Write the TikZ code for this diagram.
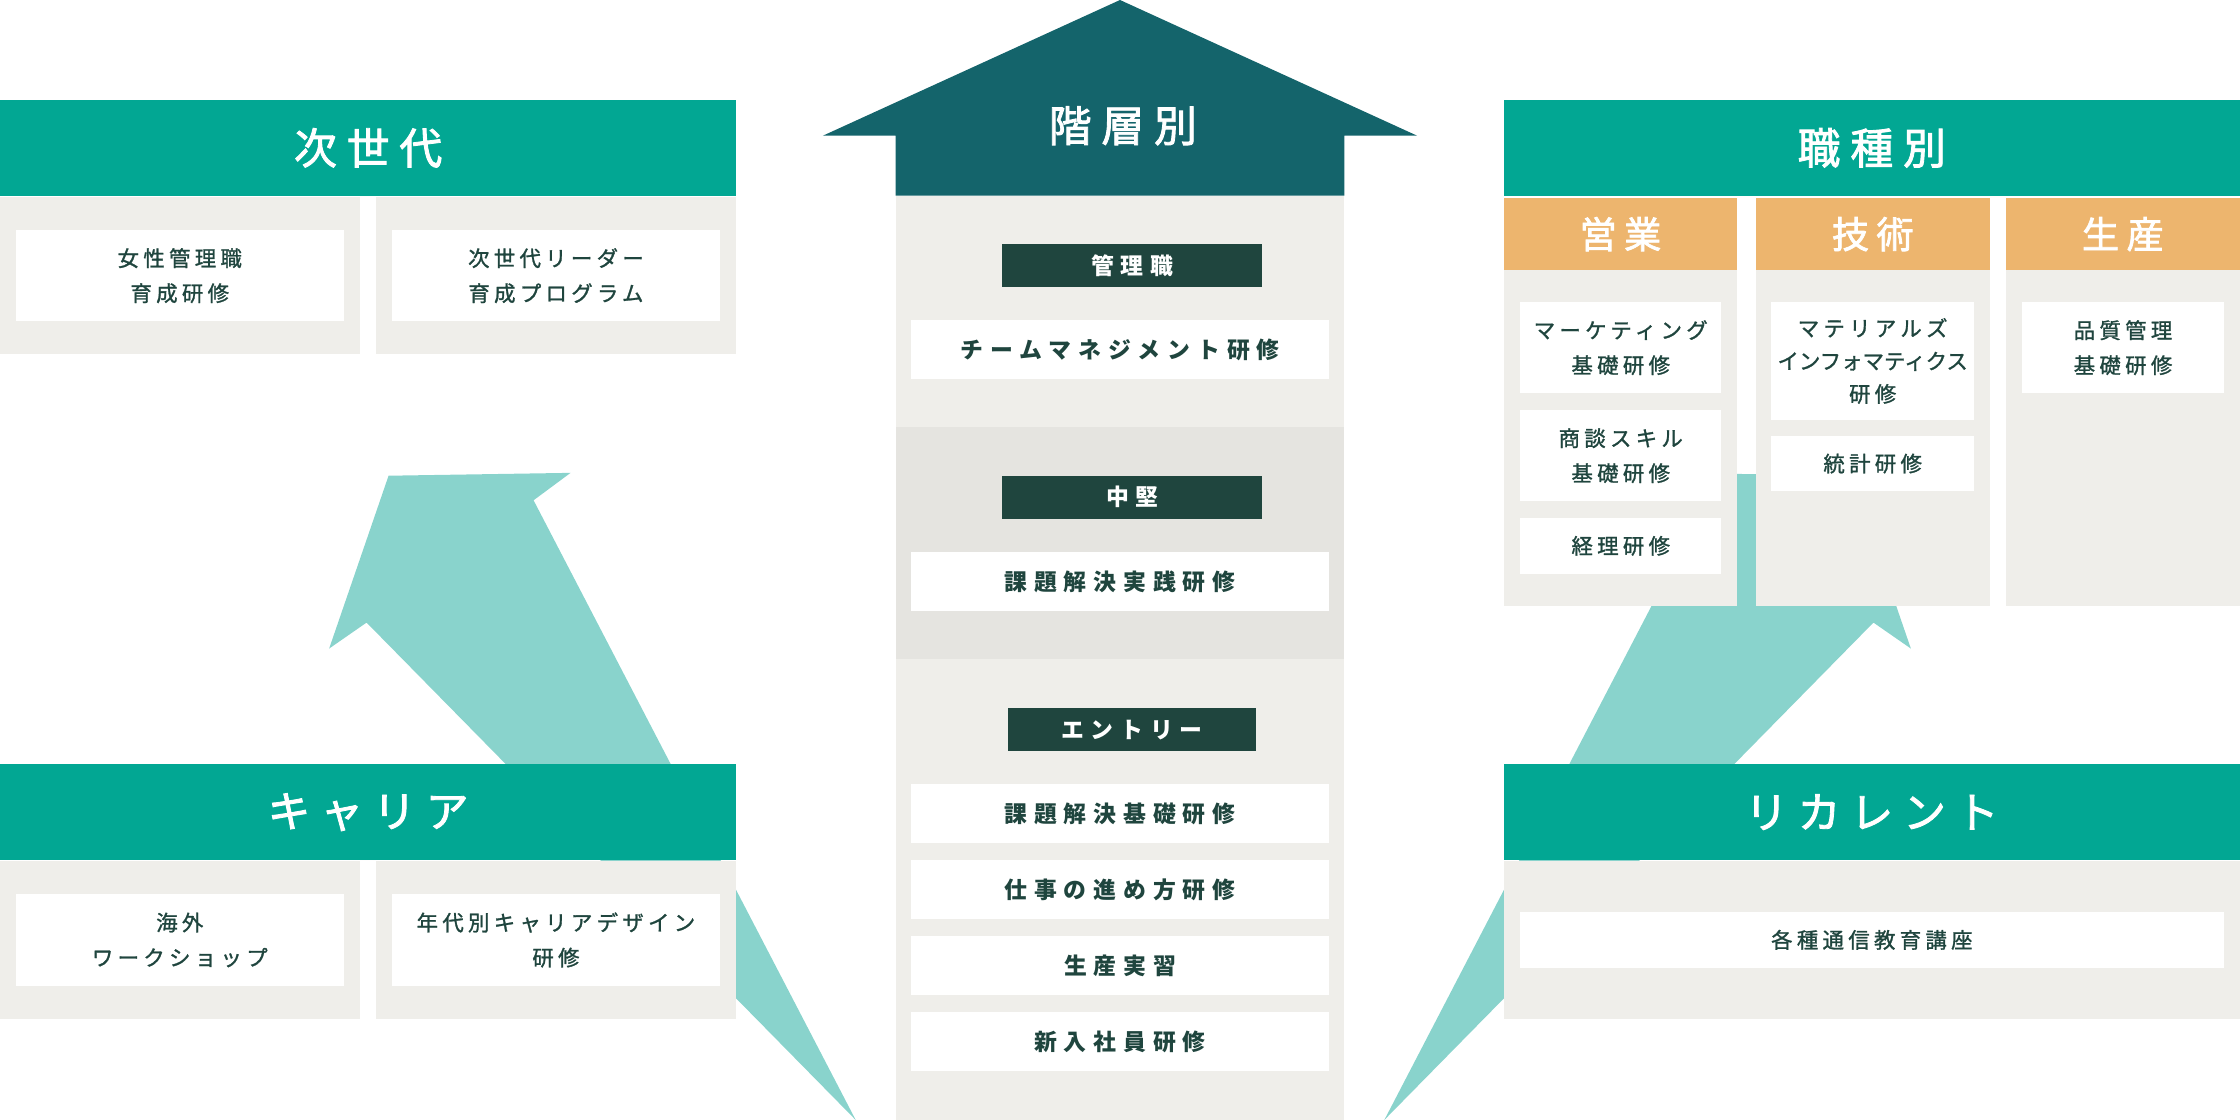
\documentclass[tikz,border=0pt]{standalone}
\usepackage{fontspec}
\setmainfont{Noto Sans CJK JP}
\newfontfamily\jpside[LetterSpace=20,FakeBold=1.2]{Noto Sans CJK JP}
\newfontfamily\jptight[LetterSpace=0,FakeBold=1.2]{Noto Sans CJK JP}
\newfontfamily\jpcenter[LetterSpace=30]{Noto Sans CJK JP}
\newfontfamily\jphead[LetterSpace=23,FakeBold=2]{Noto Sans CJK JP}
\newfontfamily\jpsub[LetterSpace=20,FakeBold=2]{Noto Sans CJK JP}
\definecolor{hdrgreen}{HTML}{02A793}
\definecolor{darkteal}{HTML}{14646B}
\definecolor{labelgreen}{HTML}{1F453E}
\definecolor{orangehd}{HTML}{EDB56E}
\definecolor{lightteal}{HTML}{89D3CC}
\definecolor{panelgray}{HTML}{EFEEEA}
\definecolor{bandgray}{HTML}{E5E4E0}
\definecolor{txtgreen}{HTML}{1F453E}
\begin{document}
\begin{tikzpicture}[x=1pt,y=-1pt,
  sz/.style 2 args={minimum width=#1pt, minimum height=#2pt},
  base/.style={draw=none, inner sep=0pt, outer sep=0pt, anchor=north west, align=center},
  hdr/.style={base, fill=hdrgreen, text=white, font={\jphead\fontsize{30}{36}\selectfont}},
  subhdr/.style={base, fill=orangehd, text=white, font={\jpsub\fontsize{26}{30}\selectfont}},
  panel/.style={base, fill=panelgray},
  band/.style={base, fill=bandgray},
  sidebox/.style={base, fill=white, text=txtgreen, font={\jpside\fontsize{15}{24.5}\selectfont}},
  cbox/.style={base, fill=white, text=txtgreen, font={\jpcenter\bfseries\fontsize{16}{20}\selectfont}},
  lvl/.style={base, fill=labelgreen, text=white, font={\jpcenter\bfseries\fontsize{16}{20}\selectfont}},
  bigarrow/.style={fill=lightteal, draw=none},
  mainarrow/.style={fill=darkteal, draw=none}
]
\useasboundingbox (0,0) rectangle (1568,784);
\clip (0,0) rectangle (1568,784);

% ---- light teal arrows (behind) ----
\coordinate (LT) at (599,784);
\coordinate (LR) at (373.5,350.2);
\coordinate (LB1) at (399.4,331);
\coordinate (LTip) at (272,333);
\coordinate (LB2) at (230.4,454);
\coordinate (LL) at (256.6,435.8);
\fill[bigarrow] (LT) -- (LR) -- (LB1) -- (LTip) -- (LB2) -- (LL) -- cycle;

\coordinate (RT) at (969,784);
\coordinate (RR) at (1194.5,350.2);
\coordinate (RB1) at (1168.6,331);
\coordinate (RTip) at (1296,333);
\coordinate (RB2) at (1337.6,454);
\coordinate (RL) at (1311.4,435.8);
\fill[bigarrow] (RT) -- (RR) -- (RB1) -- (RTip) -- (RB2) -- (RL) -- cycle;

% ---- left top: 次世代 ----
\node[hdr, sz={515.4}{67}] (hdrA) at (0,70) {次世代};
\node[panel, sz={251.7}{110}] (grayA1) at (0,138) {};
\node[panel, sz={252.1}{110}] (grayA2) at (263.3,138) {};
\node[sidebox, sz={229.3}{64}] (wA1) at (11.2,161) {女性管理職\\育成研修};
\node[sidebox, sz={229.3}{64}] (wA2) at (274.5,161) {次世代リーダー\\育成プログラム};

% ---- left bottom: キャリア ----
\node[hdr, sz={515.4}{67}] (hdrC) at (0,535) {キャリア};
\node[panel, sz={251.7}{110}] (grayC1) at (0,603) {};
\node[panel, sz={252.1}{110}] (grayC2) at (263.3,603) {};
\node[sidebox, sz={229.3}{64}] (wC1) at (11.2,626) {海外\\ワークショップ};
\node[sidebox, sz={229.3}{64}] (wC2) at (274.5,626) {年代別キャリアデザイン\\研修};

% ---- right top: 職種別 ----
\node[hdr, sz={515.4}{67}] (hdrB) at (1052.6,70) {職種別};
\node[subhdr, sz={163.4}{50.2}] (eigyo) at (1052.6,138.8) {営業};
\node[subhdr, sz={163.9}{50.2}] (gijutsu) at (1229,138.8) {技術};
\node[subhdr, sz={164}{50.2}] (seisan) at (1404,138.8) {生産};
\node[panel, sz={163.4}{235}] (colE) at (1052.6,189) {};
\node[panel, sz={163.9}{235}] (colG) at (1229,189) {};
\node[panel, sz={164}{235}] (colS) at (1404,189) {};
\node[sidebox, sz={141}{64}] (e1) at (1064,211.4) {マーケティング\\基礎研修};
\node[sidebox, sz={141}{64}] (e2) at (1064,287) {商談スキル\\基礎研修};
\node[sidebox, sz={141}{39}] (e3) at (1064,362.6) {経理研修};
\node[sidebox, sz={141.7}{82.6}, font={\jpside\fontsize{15}{23}\selectfont}] (g1) at (1240,211.4) {マテリアルズ\\{\jptight インフォマティクス}\\研修};
\node[sidebox, sz={141.7}{39}] (g2) at (1240,305) {統計研修};
\node[sidebox, sz={141.4}{64}] (s1) at (1415.4,211.4) {品質管理\\基礎研修};

% ---- right bottom: リカレント ----
\node[hdr, sz={515.4}{67}] (hdrD) at (1052.6,535) {リカレント};
\node[panel, sz={515.4}{110}] (grayD) at (1052.6,603) {};
\node[sidebox, sz={492.6}{39.2}] (wD) at (1064,638.3) {各種通信教育講座};

% ---- center: 階層別 ----
\coordinate (mA) at (576,95);
\coordinate (mTip) at (784,0);
\coordinate (mB) at (992,95);
\coordinate (mC) at (941,95);
\coordinate (mD) at (941,137);
\coordinate (mE) at (627,137);
\coordinate (mF) at (627,95);
\fill[mainarrow] (mA) -- (mTip) -- (mB) -- (mC) -- (mD) -- (mE) -- (mF) -- cycle;
\node[text=white, font={\jphead\fontsize{30}{36}\selectfont}, inner sep=0pt] (kaiso) at (786,88) {階層別};

\node[panel, sz={314}{647}] (ccol) at (627,137) {};
\node[band, sz={314}{162.5}] (cband) at (627,299) {};

\node[lvl, sz={182.2}{30}] (lv1) at (701.5,171) {管理職};
\node[cbox, sz={292}{41.5}] (c1) at (638,224) {チームマネジメント研修};
\node[lvl, sz={182.2}{30}] (lv2) at (701.5,333) {中堅};
\node[cbox, sz={292}{41.5}] (c2) at (638,386.5) {課題解決実践研修};
\node[lvl, sz={173.4}{30.4}] (lv3) at (705.6,495.6) {エントリー};
\node[cbox, sz={292}{41.5}] (c3) at (638,548.7) {課題解決基礎研修};
\node[cbox, sz={292}{41.5}] (c4) at (638,602) {仕事の進め方研修};
\node[cbox, sz={292}{41.5}] (c5) at (638,655.2) {生産実習};
\node[cbox, sz={292}{41.5}] (c6) at (638,708.5) {新入社員研修};
\end{tikzpicture}
\end{document}
